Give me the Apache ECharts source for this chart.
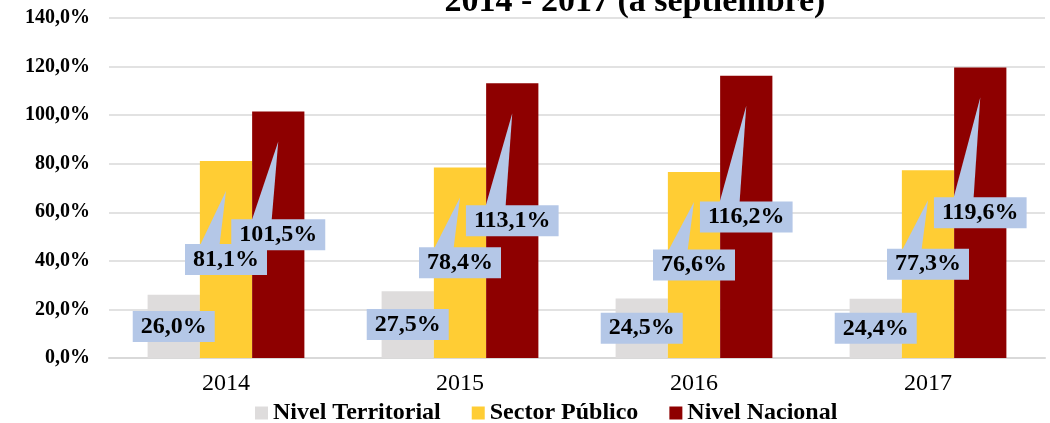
<!DOCTYPE html>
<html>
<head>
<meta charset="utf-8">
<script src="https://cdn.jsdelivr.net/npm/echarts@6/dist/echarts.min.js"></script>
<style>html,body{margin:0;padding:0;background:#fff}#c{width:1050px;height:423px}</style>
</head>
<body>
<div id="c"></div>
<script>
var categories = ['2014', '2015', '2016', '2017'];
var seriesNames = ['Nivel Territorial', 'Sector Público', 'Nivel Nacional'];
var territorial = [26.0, 27.5, 24.5, 24.4];
var sectorPublico = [81.1, 78.4, 76.6, 77.3];
var nacional = [101.5, 113.1, 116.2, 119.6];
var titleText = '2014 - 2017 (a septiembre)';

var colors = ['#DEDCDC', '#FFCD34', '#8E0000'];
var calloutColor = '#B4C7E7';
var FONT = '"Liberation Serif", "Times New Roman", serif';
var GAP = 0.33;

function fmt(v) { return v.toFixed(1).replace('.', ',') + '%'; }

function calloutSeries(idx, values) {
  return {
    type: 'custom',
    name: seriesNames[idx] + ' etiqueta',
    z: 5,
    silent: true,
    encode: { x: 0, y: 1 },
    data: values.map(function (v, i) { return [i, v]; }),
    renderItem: function (params, api) {
      var ci = api.value(0), val = api.value(1);
      var top = api.coord([ci, val]);
      var base = api.coord([ci, 0]);
      var band = api.size([1, 0])[0];
      var barW = band * (1 - GAP) / 3;
      var cx = top[0] + (idx - 1) * barW;
      var cy = (top[1] + base[1]) / 2;
      var tipY = top[1] + 30;
      var children = [];
      if (tipY < cy - 18) {
        children.push({
          type: 'polygon',
          shape: { points: [[cx - 28, cy - 10], [cx - 7, cy - 10], [cx, tipY]] },
          style: { fill: calloutColor }
        });
      }
      children.push({
        type: 'text',
        style: {
          text: fmt(val),
          x: cx, y: cy,
          align: 'center', verticalAlign: 'middle',
          font: 'bold 24px ' + FONT,
          fill: '#000',
          backgroundColor: calloutColor,
          padding: [4, 8, 3, 8]
        }
      });
      return { type: 'group', children: children };
    }
  };
}

var chart = echarts.init(document.getElementById('c'));
chart.setOption({
  animation: false,
  backgroundColor: '#fff',
  title: {
    text: titleText,
    left: 635,
    textAlign: 'center',
    top: -15,
    padding: 0,
    textStyle: { fontFamily: FONT, fontWeight: 'bold', fontSize: 34, color: '#000' }
  },
  grid: { left: 109, right: 5, top: 18, bottom: 65, containLabel: false },
  legend: {
    data: seriesNames,
    left: 255,
    top: 401,
    padding: 0,
    itemWidth: 13,
    itemHeight: 13,
    itemGap: 31,
    icon: 'rect',
    textStyle: { fontFamily: FONT, fontWeight: 'bold', fontSize: 24, color: '#000' }
  },
  xAxis: {
    type: 'category',
    data: categories,
    axisTick: { show: false },
    axisLine: { lineStyle: { color: '#D9D9D9', width: 2 } },
    axisLabel: { fontFamily: FONT, fontSize: 24, color: '#000', margin: 14 }
  },
  yAxis: {
    type: 'value',
    min: 0, max: 140, interval: 20,
    axisLine: { show: false },
    axisTick: { show: false },
    splitLine: { lineStyle: { color: '#D9D9D9', width: 1.5 } },
    axisLabel: {
      fontFamily: FONT, fontWeight: 'bold', fontSize: 20, color: '#000', margin: 19,
      formatter: function (v) { return fmt(v); }
    }
  },
  series: [
    { type: 'bar', name: seriesNames[0], data: territorial, itemStyle: { color: colors[0] }, barGap: '0%', barCategoryGap: (GAP * 100) + '%', z: 2 },
    { type: 'bar', name: seriesNames[1], data: sectorPublico, itemStyle: { color: colors[1] }, barGap: '0%', barCategoryGap: (GAP * 100) + '%', z: 2 },
    { type: 'bar', name: seriesNames[2], data: nacional, itemStyle: { color: colors[2] }, barGap: '0%', barCategoryGap: (GAP * 100) + '%', z: 2 },
    calloutSeries(0, territorial),
    calloutSeries(1, sectorPublico),
    calloutSeries(2, nacional)
  ]
});
</script>
</body>
</html>
